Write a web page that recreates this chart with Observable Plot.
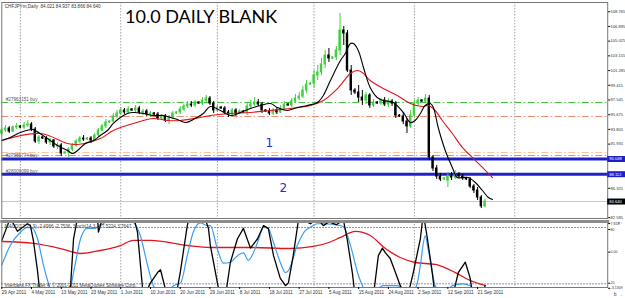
<!DOCTYPE html>
<html><head><meta charset="utf-8">
<script src="https://cdn.jsdelivr.net/npm/d3@7"></script>
<script src="https://cdn.jsdelivr.net/npm/@observablehq/plot@0.6"></script>
<style>
html,body{margin:0;padding:0;background:#fff;}
#chart{position:relative;width:625px;height:298px;overflow:hidden;background:#fff;}
#main{position:absolute;left:0;top:0;}
#sub{position:absolute;left:0;top:218px;}
#title{position:absolute;left:125px;top:6.5px;font-family:Lato,"Open Sans",sans-serif;font-size:18px;line-height:18px;color:#000;white-space:nowrap;}
svg{overflow:visible;}
</style></head><body>
<div id="chart"><div id="main"></div><div id="sub"></div><div id="title">10.0 DAILY BLANK</div></div>
<script>
// ---- daily candles (bar index = position in arrays, Sunday bars included) ----
const opens = [93.29,93.67,93.92,93.54,94.05,94.18,94.05,94.30,94.43,93.79,92.27,92.78,92.65,92.14,92.40,91.63,91.76,90.74,90.87,91.25,91.76,92.27,92.65,92.52,92.65,92.40,93.03,93.67,94.18,94.68,94.81,95.45,95.83,96.21,95.96,96.34,96.21,96.46,95.96,96.08,95.70,95.83,95.70,95.19,95.45,94.94,95.32,95.83,95.96,96.34,96.72,96.97,96.85,97.23,97.10,97.48,97.73,97.10,96.21,96.59,96.46,95.96,95.70,96.21,95.83,96.08,95.96,96.72,96.97,97.23,96.97,96.21,96.08,95.83,96.21,95.96,96.46,96.97,96.85,97.35,97.73,97.99,98.75,99.51,99.64,100.66,101.04,102.06,103.20,102.82,102.95,103.84,106.38,106.00,101.29,98.75,98.50,97.86,97.48,98.12,96.85,97.23,97.10,97.48,96.97,97.35,97.10,95.57,95.45,94.81,94.18,95.57,97.10,97.48,97.35,97.73,90.24,88.84,87.82,87.44,87.31,87.82,87.69,88.08,87.82,87.57,87.44,86.55,86.04,85.15,84.021];
const highs = [93.92,94.30,94.18,94.30,94.56,94.30,94.68,94.94,94.68,94.05,93.03,92.90,92.90,92.65,92.52,92.14,92.01,91.00,91.51,92.01,92.52,92.90,93.03,92.78,92.90,93.29,93.92,94.43,95.07,94.94,95.83,96.21,96.59,96.46,96.72,96.46,96.85,96.72,96.34,96.34,96.08,95.96,95.96,95.70,95.70,95.57,96.08,96.08,96.72,96.97,97.35,97.35,97.48,97.35,97.86,98.12,97.99,97.35,96.85,96.72,96.72,96.21,96.46,96.46,96.34,96.21,97.23,97.48,97.86,97.61,97.23,96.34,96.46,96.46,96.59,96.85,97.35,97.10,97.73,98.24,98.50,99.26,100.02,99.77,101.29,101.93,102.82,103.84,104.09,103.07,104.34,108.54,106.89,106.38,101.93,99.00,99.39,98.75,98.50,98.37,97.61,97.35,97.73,97.86,97.73,97.61,97.35,95.70,95.96,95.19,96.21,97.48,97.86,97.61,98.24,98.12,90.49,89.22,88.20,87.69,88.33,88.33,88.58,88.33,88.08,87.69,87.69,86.80,86.42,85.41,84.937];
const lows = [93.03,93.41,93.29,93.41,93.79,93.92,93.79,94.05,93.54,92.01,91.89,92.52,91.89,91.76,91.38,91.25,90.36,90.62,90.24,91.00,91.51,92.01,92.27,92.40,92.01,92.27,92.78,93.54,93.92,94.56,94.68,95.19,95.57,95.70,95.70,96.08,95.96,95.70,95.57,95.45,95.32,95.57,94.94,95.07,94.68,94.43,95.07,95.70,95.70,96.08,96.46,96.59,96.59,96.97,96.85,97.23,96.85,95.83,95.96,96.34,95.70,95.32,95.57,95.45,95.70,95.83,95.57,96.46,96.72,96.72,95.83,95.96,95.57,95.57,95.70,95.83,96.21,96.72,96.59,97.10,97.48,97.73,98.37,99.39,99.00,100.02,100.66,101.55,102.31,102.69,102.56,103.20,104.47,101.04,98.12,98.24,97.23,96.85,96.97,96.46,96.59,96.97,96.85,96.72,96.59,96.72,95.19,95.32,94.43,93.29,93.92,95.19,96.72,97.23,97.10,89.85,88.46,87.44,87.18,87.31,86.42,87.31,87.44,87.57,87.31,87.31,86.29,85.66,84.77,83.75,83.866];
const closes = [93.67,93.92,93.54,94.05,94.18,94.05,94.30,94.43,93.79,92.27,92.78,92.65,92.14,92.40,91.63,91.76,90.74,90.87,91.25,91.76,92.27,92.65,92.52,92.65,92.40,93.03,93.67,94.18,94.68,94.81,95.45,95.83,96.21,95.96,96.34,96.21,96.46,95.96,96.08,95.70,95.83,95.70,95.19,95.45,94.94,95.32,95.83,95.96,96.34,96.72,96.97,96.85,97.23,97.10,97.48,97.73,97.10,96.21,96.59,96.46,95.96,95.70,96.21,95.83,96.08,95.96,96.72,96.97,97.23,96.97,96.21,96.08,95.83,96.21,95.96,96.46,96.97,96.85,97.35,97.73,97.99,98.75,99.51,99.64,100.66,101.04,102.06,103.20,102.82,102.95,103.84,106.38,106.00,101.29,98.75,98.50,97.86,97.48,98.12,96.85,97.23,97.10,97.48,96.97,97.35,97.10,95.57,95.45,94.81,94.18,95.57,97.10,97.48,97.35,97.73,90.24,88.84,87.82,87.44,87.57,87.82,87.69,88.08,87.82,87.57,87.44,86.55,86.04,85.15,84.02,84.640];

// ---- moving averages on the price panel (bar position, price) ----
const fastMABar = [0,2.3,5,8.3,9.9,12.3,15,17.7,19,20.4,22.5,24.7,26.5,28.4,30,31.9,33.8,35.4,38.1,40.8,43.5,45.4,47.2,49.4,51.5,54.2,56.1,58.8,61.5,64.2,66.9,69.6,72.3,74.1,76.8,79.5,82.2,84.9,86.5,88.4,91.1,92.4,93.8,94.6,95.9,97.3,99.1,101,102.6,105.3,108,109.9,111.2,112.6,113.9,115.3,116.1,117.4,119.3,121.2,122.5,123.9,125.5,127.4,129.3,130.9,132];
const fastMAVal = [92.40,92.78,93.41,93.79,93.41,92.65,91.76,91.13,90.74,91.13,92.01,92.40,93.03,93.67,94.56,95.32,95.83,95.96,95.83,95.57,95.57,95.32,95.07,94.68,95.07,95.83,96.72,96.21,95.57,95.96,96.46,96.85,97.10,96.59,96.21,96.59,96.85,97.23,98.12,100.02,102.56,103.45,104.72,104.72,103.84,101.67,99.13,97.86,97.48,97.23,95.96,94.68,94.94,95.83,96.85,97.10,96.59,94.05,91.13,88.97,87.69,87.69,87.69,87.06,86.04,85.15,84.90];
const slowMABar = [0,10.4,17.7,20.4,26.5,30,35.4,40.8,44.6,48,53.4,56.1,61.5,66.9,72.3,77.6,83,86.5,90.3,93.8,95.6,97,99.1,102.6,106.4,109.9,113.1,114.7,116.6,118.5,121.2,123.9,126.6,129.3,132];
const slowMAVal = [92.40,93.29,92.01,91.89,92.65,93.67,94.56,95.19,94.94,94.94,95.32,95.57,95.83,95.96,96.21,96.46,96.85,97.48,99.00,100.91,101.29,101.04,100.02,99.00,98.12,97.10,96.72,96.85,96.21,94.94,93.29,91.51,90.24,88.97,87.69];

// ---- order / level lines ----
const dashLevels = [97.23, 95.45, 90.87, 90.49];
const dashColors = ["#3cc43c", "#f08a6a", "#ffc29a", "#f4826a"];
const blueLevels = [90.048, 88.112];
const currentPrice = 84.640;
const orderLabelPrices = [97.23, 90.048, 88.112];
const orderLabelTexts = ["#27963151 buy", "#27965774 buy", "#28009099 buy"];
const noteTexts = ["1", "2"];
const noteBars = [72, 75.7];
const notePrices = [92.01, 86.29];
const priceTicks = [82.585,84.455,86.325,91.935,93.805,95.675,97.545,99.415,101.285,103.155,105.025,106.895,108.765];
const infoText = "CHFJPYm,Daily  84.021 84.937 83.866 84.640";

// ---- oscillator window ----
const kBar = [0,1.5,2.3,4.2,6.9,7.7,8.5,9.6,10.4,17.7,18.5,19.3,20.6,25.7,26,27.1,35.4,36.5,37.3,38.1,40,41.9,42.7,44.6,47,48,49.9,50.7,54.2,55.6,56.1,58,58.8,60.1,61.5,63.4,65,66.9,68.8,69.6,70.4,71.7,73.1,74.9,76.3,77.1,78.4,79.8,80.3,83,85,86.5,88,90,91.9,92.9,94.3,95.1,99.9,101.3,102.4,103.2,104.5,105.9,107.2,109.1,110.7,112.6,113.4,114.5,115.8,116.6,121.2,122.8,124.7,126,126.8,129.3,130];
const kVal = [66,82,90,76,84,82,66,34,5,5,18,68,95,95,75,90,92,75,40,5,21,32,35,5,10,32,82,95,95,79,61,21,5,5,43,68,79,58,68,75,82,79,50,26,18,21,50,88,90,84,89,82,86,83,88,68,32,5,5,50,58,53,47,32,18,5,32,68,95,68,32,5,5,32,43,26,5,5,18];
const dBar = [0,2.3,5,6.9,8.3,9.6,11.2,12.6,13.9,17.9,19.3,21.2,23,24.7,26.5,29.2,34.6,35.4,37.3,39.2,40.8,43.5,46.2,48.1,49.9,51.5,53.4,55.3,56.1,58,59.6,61.5,63.4,65,66.3,68.8,70.4,71.7,73.1,74.9,76.3,77.1,79.5,81.7,83,84.9,86.5,91.1,91.9,93.8,95.7,97,99.1,102.6,106.4,109.9,111.8,112.6,113.9,114.7,116.6,118.5,121.2,123.9,126,127.9,129.3];
const dVal = [40,61,75,80,79,68,40,20,8,8,32,68,79,79,82,88,88,86,71,40,18,8,18,21,50,75,85,82,82,57,42,43,50,53,45,64,80,79,64,43,32,34,61,77,80,84,84,82,81,61,32,18,8,18,18,8,21,40,71,57,18,8,18,20,18,8,10];
const rBar = [0,8.5,15.8,21.2,26.5,31.9,35.4,40,49.9,56.1,66.9,77.6,83.8,88,91.1,95.1,99.1,103.2,107.2,111.2,116.6,122,126,130];
const rVal = [65.1,63,57.6,52.3,55.5,60.8,66.2,66.2,60.8,58.7,58.7,57.6,59.8,64,69.4,75.8,71.5,57.6,48,42.7,40.6,32,23.5,18.2];
const oscLevels = [80, 20];
const oscTicks = [84.2, 77.9, 53.7, 20.6, 15.2];
const oscTickLabels = ["7.818", "80", "0.00", "20", "-3.1309"];
const oscTitle = "MACD(12,26,9) -2.4966 -2.7536, Stoch(14,3,3) 7.5224 3.7647";
const copyright = "Interbank FX Trader 4, © 2001-2011 MetaQuotes Software Corp.";

// ---- time axis ----
const dateBars = [0,8,16,24,32,40,48,56,64,72,80,88,96,104,112,120,128];
const dateLabels = ["29 Apr 2011","4 May 2011","13 May 2011","23 May 2011","1 Jun 2011","10 Jun 2011","20 Jun 2011","29 Jun 2011","8 Jul 2011","18 Jul 2011","27 Jul 2011","5 Aug 2011","15 Aug 2011","24 Aug 2011","2 Sep 2011","12 Sep 2011","21 Sep 2011"];
const gridBars = [5, 32, 58, 84, 111, 138];

// ---------------------------------------------------------------
const FONT = '"Liberation Sans", Arial, sans-serif';
const AXFS = 4.1;
const GREEN = "#3fcf3f";
const candles = closes.map((c, i) => ({i, o: opens[i], h: highs[i], l: lows[i], c, up: c >= opens[i]}));
const fastMA = fastMABar.map((b, i) => ({b, v: fastMAVal[i]}));
const slowMA = slowMABar.map((b, i) => ({b, v: slowMAVal[i]}));
const dashes = dashLevels.map((p, i) => ({p, color: dashColors[i]}));
const orderLabels = orderLabelPrices.map((p, i) => ({p, t: orderLabelTexts[i]}));
const notes = noteTexts.map((t, i) => ({t, b: noteBars[i], p: notePrices[i]}));
const boxes = [
  {p: blueLevels[0], bg: "#1f1fc8"},
  {p: blueLevels[1], bg: "#1f1fc8"},
  {p: currentPrice, bg: "#000000"}
];
const xDomain = [0, 163];

const mainPlot = Plot.plot({
  width: 625, height: 219,
  marginLeft: 1.3, marginRight: 17.8, marginTop: 2, marginBottom: 1,
  style: {fontFamily: FONT, fontSize: "4.6px", background: "transparent", overflow: "visible"},
  x: {type: "linear", domain: xDomain, axis: null},
  y: {domain: [82.483, 109.937], axis: null},
  marks: [
    Plot.ruleX(gridBars, {stroke: "#8a8a8a", strokeDasharray: "1.5,1.5", strokeWidth: 0.8}),
    Plot.ruleY(dashes, {y: "p", stroke: "color", strokeWidth: 1, strokeDasharray: "7,2.5,1.5,2.5"}),
    Plot.ruleY([currentPrice], {stroke: "#c8c8c8", strokeWidth: 1}),
    Plot.ruleY(blueLevels, {stroke: "#2020c8", strokeWidth: 3}),
    Plot.ruleX(candles, {x: "i", y1: "l", y2: "h", stroke: d => d.up ? GREEN : "#000", strokeWidth: 1}),
    Plot.rect(candles, {x1: d => d.i - 0.32, x2: d => d.i + 0.32, y1: "o", y2: "c",
      fill: d => d.up ? GREEN : "#000", insetTop: -0.5, insetBottom: -0.5}),
    Plot.line(slowMA, {x: "b", y: "v", stroke: "#e3161d", strokeWidth: 1.1, curve: "catmull-rom"}),
    Plot.line(fastMA, {x: "b", y: "v", stroke: "#000", strokeWidth: 1.1, curve: "catmull-rom"}),
    Plot.text(orderLabels, {frameAnchor: "left", y: "p", text: "t", dx: 4, dy: -3, textAnchor: "start", fill: "#555", fontSize: 4.6}),
    Plot.text(notes, {x: "b", y: "p", text: "t", fill: "#2b2bd0", fontSize: 12, fontFamily: "DejaVu Sans"}),
    Plot.text([infoText], {frameAnchor: "top-left", dx: 3, dy: 2, textAnchor: "start", fill: "#333", fontSize: 4.6}),
    Plot.frame({stroke: "#777", strokeWidth: 1}),
    Plot.axisY(priceTicks, {anchor: "right", tickFormat: d => d.toFixed(3), tickSize: 2, tickPadding: 0.8, fontSize: AXFS, fill: "#333"}),
    Plot.ruleY(boxes, {y: "p", x1: xDomain[1], x2: xDomain[1] + 4.9, stroke: "bg", strokeWidth: 6}),
    Plot.text(boxes, {y: "p", x: xDomain[1], dx: 1.5, text: d => d.p.toFixed(3), fill: "#fff", textAnchor: "start", fontSize: AXFS})
  ]
});
document.getElementById("main").appendChild(mainPlot);

const kData = kBar.map((b, i) => ({b, v: kVal[i]}));
const dData = dBar.map((b, i) => ({b, v: dVal[i]}));
const rData = rBar.map((b, i) => ({b, v: rVal[i]}));

const subPlot = Plot.plot({
  width: 625, height: 80,
  marginLeft: 1.3, marginRight: 17.8, marginTop: 3, marginBottom: 11,
  style: {fontFamily: FONT, fontSize: "4.6px", background: "transparent", overflow: "visible"},
  x: {type: "linear", domain: xDomain, axis: null},
  y: {domain: [16.06, 86.39], axis: null},
  marks: [
    Plot.ruleX(gridBars, {stroke: "#8a8a8a", strokeDasharray: "1.5,1.5", strokeWidth: 0.8}),
    Plot.ruleY(oscLevels, {stroke: "#5a5aa8", strokeDasharray: "1.5,1.5", strokeWidth: 0.9}),
    Plot.line(rData, {x: "b", y: "v", stroke: "#e3161d", strokeWidth: 1.3, curve: "monotone-x", clip: true}),
    Plot.line(dData, {x: "b", y: "v", stroke: "#3b9cf0", strokeWidth: 1.2, curve: "monotone-x", clip: true}),
    Plot.line(kData, {x: "b", y: "v", stroke: "#000", strokeWidth: 1.3, clip: true}),
    Plot.frame({stroke: "#777", strokeWidth: 1}),
    Plot.frame({anchor: "top", stroke: "#8c8c8c", strokeWidth: 3}),
    Plot.text([oscTitle], {frameAnchor: "top-left", dx: 3, dy: 3, textAnchor: "start", fill: "#444", fontSize: 4.6}),
    Plot.text([copyright], {frameAnchor: "bottom-left", dx: 3, dy: -1, textAnchor: "start", fill: "#444", fontSize: 4.6}),
    Plot.axisY(oscTicks, {anchor: "right", tickFormat: d => oscTickLabels[oscTicks.indexOf(d)], tickSize: 2, tickPadding: 0.8, fontSize: 3.6, fill: "#333"}),
    Plot.axisX(dateBars, {anchor: "bottom", tickFormat: d => dateLabels[dateBars.indexOf(d)], textAnchor: "start", tickSize: 2, tickPadding: 1, fontSize: 4.6, fill: "#333"})
  ]
});
document.getElementById("sub").appendChild(subPlot);
</script>
</body></html>
